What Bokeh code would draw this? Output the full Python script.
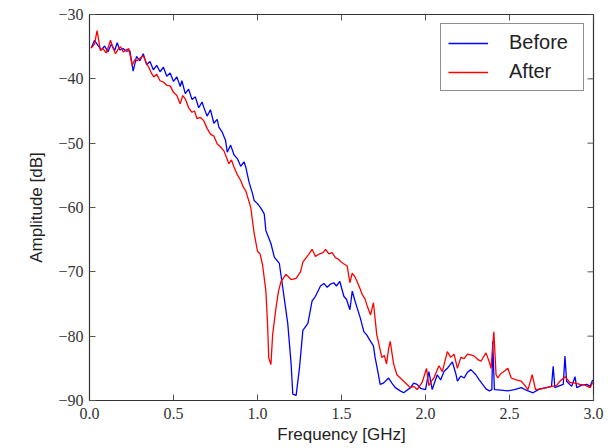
import math
from bokeh.plotting import figure
from bokeh.models import Range1d, FixedTicker, CustomJSTickFormatter, Legend, LegendItem
from bokeh.embed import file_html
from bokeh.resources import INLINE

# ---- data ----
before_freq = [0.01, 0.03, 0.05, 0.07, 0.09, 0.11, 0.13, 0.15, 0.165, 0.18, 0.20, 0.22, 0.24, 0.26, 0.28,
               0.30, 0.32, 0.34, 0.36, 0.38, 0.40, 0.42, 0.44, 0.46, 0.48, 0.50, 0.52, 0.54, 0.55, 0.57,
               0.59, 0.61, 0.63, 0.65, 0.67, 0.68, 0.70, 0.72, 0.74, 0.76, 0.77, 0.79, 0.81, 0.82, 0.84,
               0.86, 0.88, 0.90, 0.92, 0.93, 0.95, 0.97, 0.98, 1.00, 1.02, 1.04, 1.05, 1.08, 1.10, 1.13,
               1.15, 1.18, 1.20, 1.21, 1.23, 1.25, 1.27, 1.30, 1.325, 1.345, 1.375, 1.395, 1.415, 1.435,
               1.454, 1.47, 1.49, 1.514, 1.53, 1.55, 1.564, 1.58, 1.593, 1.61, 1.633, 1.65, 1.673, 1.69,
               1.70, 1.72, 1.73, 1.75, 1.78, 1.80, 1.82, 1.85, 1.87, 1.89, 1.91, 1.93, 1.95, 1.97, 2.00,
               2.02, 2.04, 2.07, 2.09, 2.11, 2.13, 2.16, 2.18, 2.19, 2.21, 2.23, 2.25, 2.27, 2.30, 2.32,
               2.34, 2.36, 2.38, 2.395, 2.40, 2.41, 2.45, 2.49, 2.53, 2.57, 2.60, 2.64, 2.68, 2.72, 2.75,
               2.76, 2.77, 2.80, 2.82, 2.83, 2.84, 2.87, 2.89, 2.90, 2.93, 2.96, 2.98, 2.995]
before_db = [-35.2, -34.0, -34.8, -35.5, -34.9, -35.8, -34.6, -35.6, -34.4, -35.5, -35.3, -35.7, -35.6, -38.8, -36.5,
             -37.2, -36.1, -37.8, -37.3, -38.6, -37.9, -38.9, -38.2, -39.6, -39.1, -40.4, -39.7, -41.2, -40.3, -42.3,
             -41.6, -43.2, -42.8, -44.5, -43.6, -44.4, -45.8, -44.8, -46.9, -46.3, -47.5, -48.3, -49.6, -51.4, -50.3,
             -51.8, -52.4, -53.6, -52.9, -53.7, -56.1, -57.8, -58.9, -59.4, -60.1, -61.0, -63.6, -65.6, -67.7, -68.7,
             -72.4, -78.0, -84.3, -89.0, -89.2, -84.9, -79.1, -78.0, -74.5, -73.8, -72.2, -71.8, -72.4, -71.9,
             -71.7, -72.2, -71.5, -73.8, -74.3, -75.9, -73.0, -74.5, -75.6, -77.0, -79.3, -79.8, -80.8, -81.5,
             -83.3, -86.0, -87.5, -87.3, -86.5, -87.3, -88.0, -88.5, -88.8, -88.4, -88.0, -87.3, -87.5, -88.1, -88.3,
             -85.5, -88.3, -86.0, -86.8, -85.5, -85.0, -84.0, -85.8, -87.0, -86.2, -86.5, -85.6, -85.2, -86.0, -86.8,
             -87.5, -88.2, -88.5, -88.3, -80.8, -88.3, -88.4, -88.5, -88.3, -88.0, -88.4, -88.8, -88.2, -88.0, -87.8,
             -84.7, -88.0, -87.7, -87.5, -83.1, -87.0, -87.8, -86.3, -88.0, -87.6, -87.5, -87.8, -86.8]

after_freq = [0.01, 0.03, 0.045, 0.065, 0.08, 0.10, 0.125, 0.14, 0.155, 0.17, 0.185, 0.20, 0.22, 0.234, 0.254,
              0.27, 0.284, 0.30, 0.32, 0.34, 0.353, 0.37, 0.383, 0.40, 0.42, 0.44, 0.46, 0.48, 0.50, 0.52,
              0.54, 0.555, 0.57, 0.59, 0.61, 0.625, 0.64, 0.66, 0.68, 0.70, 0.72, 0.74, 0.76, 0.78, 0.80,
              0.83, 0.845, 0.86, 0.88, 0.90, 0.915, 0.93, 0.945, 0.96, 0.98, 1.00, 1.015, 1.03, 1.05, 1.06,
              1.067, 1.08, 1.09, 1.11, 1.125, 1.14, 1.17, 1.185, 1.20, 1.23, 1.256, 1.27, 1.29, 1.305, 1.325,
              1.345, 1.37, 1.39, 1.405, 1.425, 1.444, 1.464, 1.48, 1.494, 1.51, 1.534, 1.55, 1.564, 1.58,
              1.593, 1.61, 1.623, 1.64, 1.653, 1.673, 1.69, 1.71, 1.725, 1.74, 1.755, 1.768, 1.78, 1.79,
              1.81, 1.83, 1.85, 1.87, 1.89, 1.91, 1.93, 1.95, 1.98, 2.006, 2.02, 2.035, 2.05, 2.08, 2.10,
              2.13, 2.15, 2.17, 2.19, 2.21, 2.23, 2.25, 2.27, 2.29, 2.31, 2.33, 2.36, 2.38, 2.39, 2.407,
              2.42, 2.43, 2.45, 2.47, 2.49, 2.51, 2.54, 2.57, 2.59, 2.61, 2.635, 2.655, 2.69, 2.72, 2.75,
              2.78, 2.80, 2.83, 2.86, 2.89, 2.92, 2.95, 2.98, 2.995]
after_db = [-35.2, -34.6, -32.5, -35.6, -35.3, -36.0, -34.0, -35.2, -36.1, -35.4, -35.0, -35.8, -35.5, -35.3, -37.9,
            -37.0, -37.2, -36.8, -36.4, -37.6, -38.2, -39.2, -39.7, -39.3, -40.3, -40.5, -41.0, -41.1, -42.1, -42.6,
            -43.9, -42.6, -43.1, -44.5, -45.2, -45.0, -46.2, -46.0, -46.5, -47.7, -48.6, -48.9, -50.1, -50.6, -51.2,
            -53.2, -52.6, -53.7, -54.9, -55.8, -56.8, -57.4, -58.7, -60.0, -64.0, -66.8, -67.2, -68.9, -73.0, -78.2,
            -83.4, -84.4, -79.8, -75.6, -73.0, -71.5, -70.4, -70.8, -71.2, -71.0, -70.0, -68.5, -67.8, -67.3, -66.5,
            -67.6, -67.2, -67.0, -66.5, -67.2, -67.0, -67.8, -68.0, -68.4, -68.7, -69.1, -71.7, -70.2, -70.8,
            -71.5, -72.6, -73.5, -74.2, -75.3, -76.7, -74.8, -79.8, -81.5, -83.3, -83.0, -84.3, -82.0, -80.8,
            -84.3, -86.0, -86.5, -87.0, -87.5, -88.0, -87.8, -88.3, -87.2, -85.0, -87.7, -87.0, -86.5, -84.6, -85.5,
            -82.4, -83.3, -82.8, -85.0, -83.3, -83.5, -82.8, -82.9, -83.1, -83.6, -83.9, -82.6, -84.0, -85.0, -79.3,
            -86.0, -86.5, -85.8, -85.4, -85.0, -86.5, -86.8, -87.0, -87.6, -88.3, -86.0, -88.3, -88.2, -88.0, -87.8,
            -87.7, -87.0, -86.3, -87.2, -87.3, -87.5, -87.6, -88.0, -87.2]

x_ticks = [0.0, 0.5, 1.0, 1.5, 2.0, 2.5, 3.0]
y_ticks = [-90, -80, -70, -60, -50, -40, -30]
x_min, x_max = 0.0, 3.0
y_min, y_max = -90, -30

TICK_FONT = "Liberation Serif"
LABEL_FONT = "Liberation Sans"

p = figure(width=615, height=448, output_backend="svg", toolbar_location=None,
           x_range=Range1d(x_min, x_max), y_range=Range1d(y_min, y_max),
           min_border_left=89, min_border_right=22, min_border_top=14, min_border_bottom=48,
           x_axis_label="Frequency [GHz]", y_axis_label="Amplitude [dB]")
p.background_fill_color = "white"
p.border_fill_color = "white"
p.outline_line_color = "#333333"
p.outline_line_width = 1.2
p.grid.visible = False

xfmt = CustomJSTickFormatter(code="return tick.toFixed(1);")
yfmt = CustomJSTickFormatter(code="return (tick < 0 ? '\\u2212' : '') + Math.abs(tick).toFixed(0);")

for ax in p.xaxis:
    ax.ticker = FixedTicker(ticks=x_ticks)
    ax.formatter = xfmt
for ax in p.yaxis:
    ax.ticker = FixedTicker(ticks=y_ticks)
    ax.formatter = yfmt

for ax in list(p.xaxis) + list(p.yaxis):
    ax.major_tick_in = 6
    ax.major_tick_out = 0
    ax.minor_tick_in = 0
    ax.minor_tick_out = 0
    ax.major_tick_line_color = "#555555"
    ax.axis_line_color = "#333333"
    ax.major_label_text_font = TICK_FONT
    ax.major_label_text_font_size = "16px"
    ax.major_label_text_color = "#333333"
    ax.axis_label_text_font = LABEL_FONT
    ax.axis_label_text_font_size = "17px"
    ax.axis_label_text_font_style = "normal"
    ax.axis_label_text_color = "#222222"

p.xaxis.major_label_standoff = 7
p.xaxis.axis_label_standoff = 3
p.yaxis.major_label_standoff = 6
p.yaxis.axis_label_standoff = 9

# inward ticks on the top and right edges of the frame (like the reference)
p.ray(x=x_ticks, y=[y_max] * len(x_ticks), length=6, length_units="screen",
      angle=-math.pi / 2, line_color="#555555", line_width=1)
p.ray(x=[x_max] * len(y_ticks), y=y_ticks, length=6, length_units="screen",
      angle=math.pi, line_color="#555555", line_width=1)

r_before = p.line(before_freq, before_db, line_color="#0000ff", line_width=1.3)
r_after = p.line(after_freq, after_db, line_color="#ff0000", line_width=1.3)

legend = Legend(items=[LegendItem(label="Before", renderers=[r_before]),
                       LegendItem(label="After", renderers=[r_after])],
                location="top_right")
legend.label_text_font = LABEL_FONT
legend.label_text_font_size = "20px"
legend.label_text_color = "#222222"
legend.border_line_color = "#222222"
legend.border_line_width = 1.2
legend.glyph_width = 40
legend.glyph_height = 20
legend.label_height = 20
legend.label_width = 67
legend.label_standoff = 21
legend.spacing = 6
legend.padding = 7
legend.margin = 9
legend.background_fill_alpha = 1.0
p.add_layout(legend)

open("out.html", "w").write(file_html(p, INLINE))
